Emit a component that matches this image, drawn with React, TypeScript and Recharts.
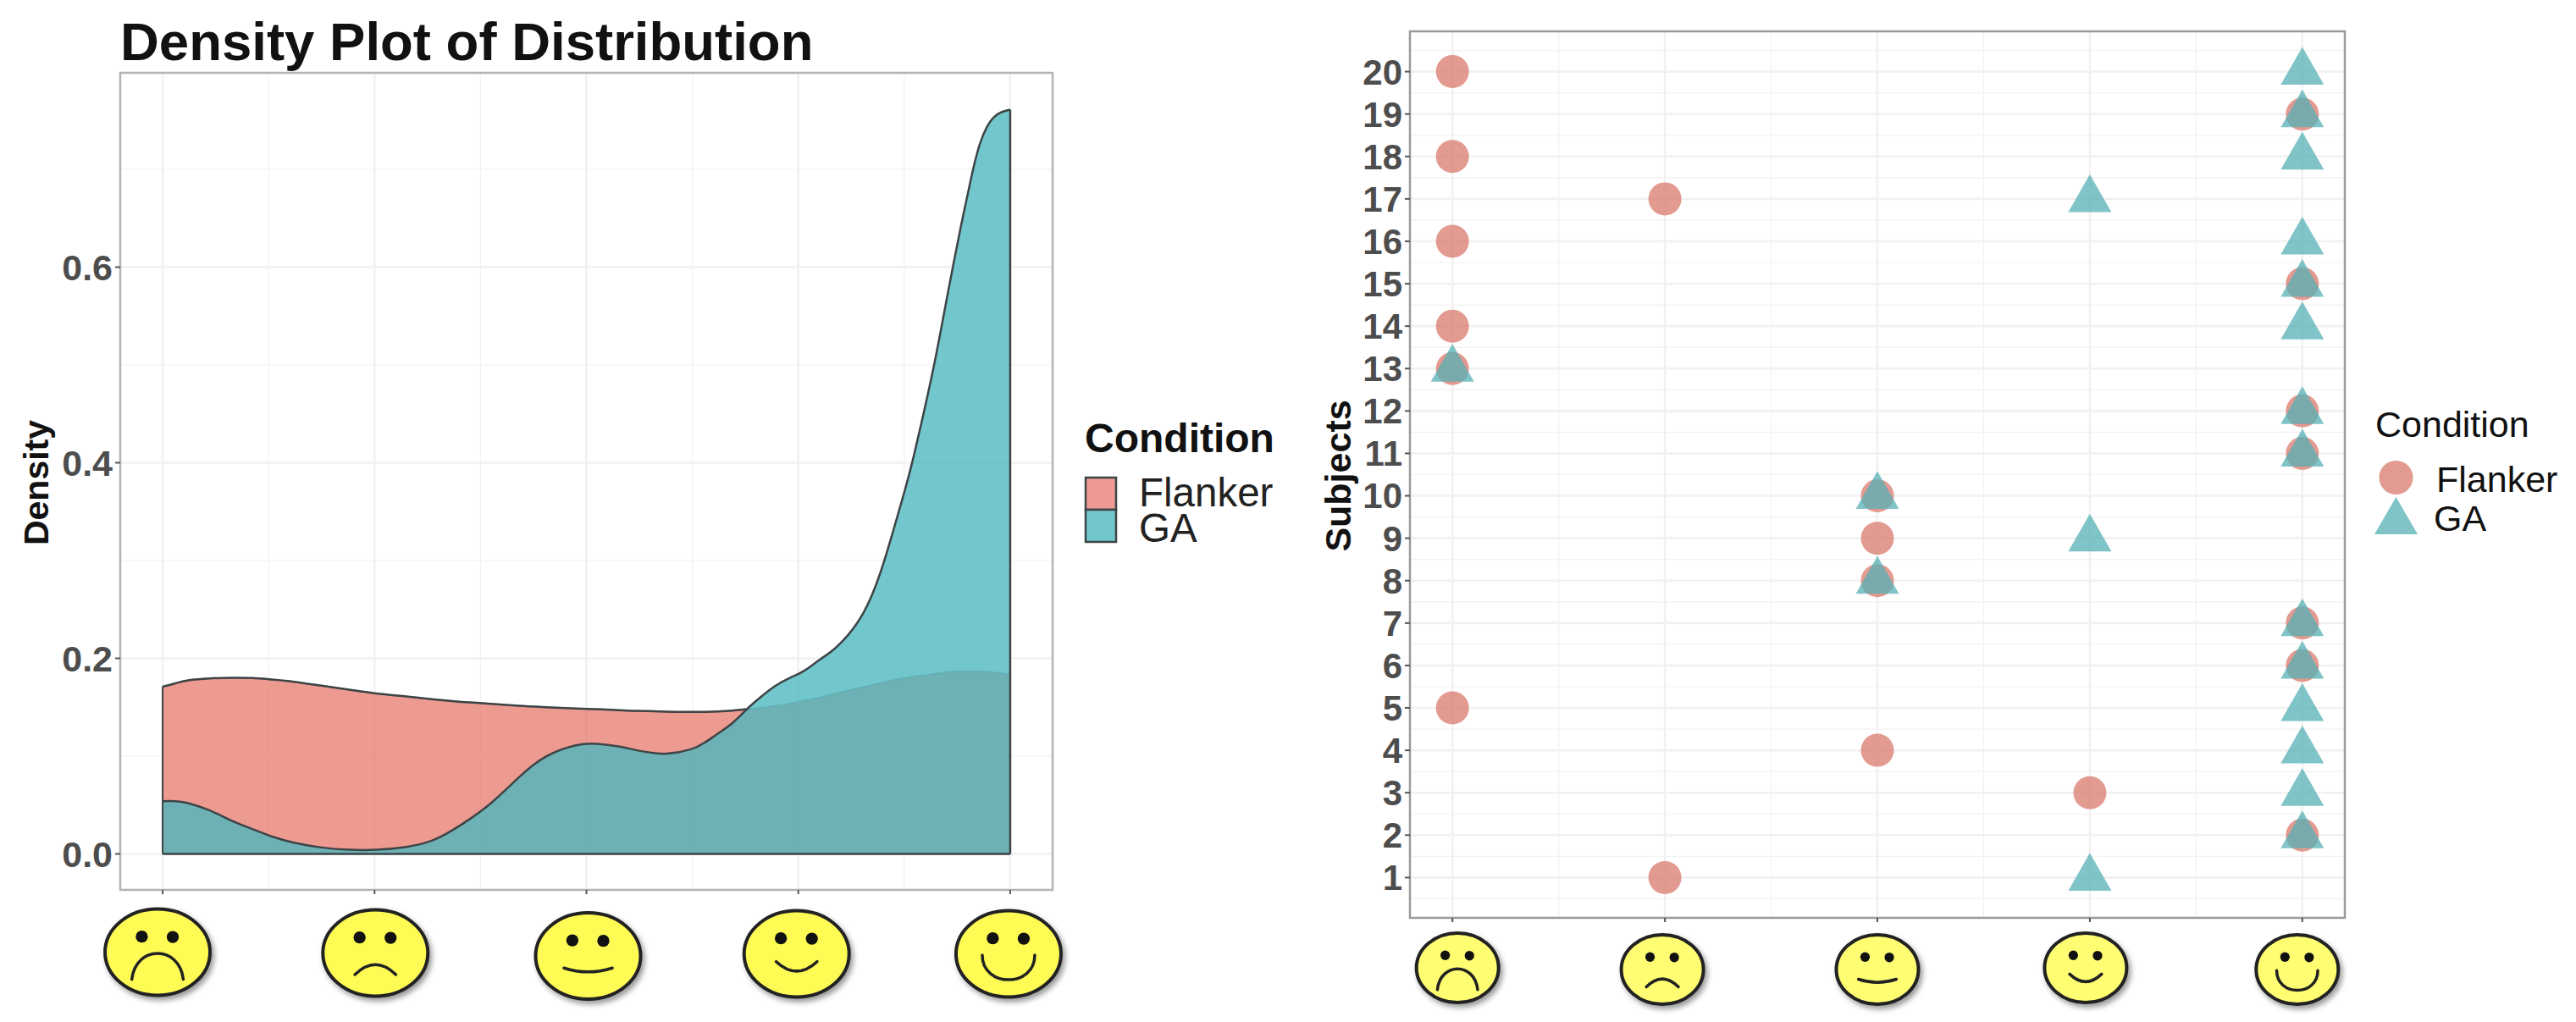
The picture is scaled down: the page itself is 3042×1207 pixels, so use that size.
import {
    Area,
    CartesianGrid,
    ComposedChart,
    Line,
    ReferenceArea,
    ReferenceLine,
    Scatter,
    ScatterChart,
    XAxis,
    YAxis,
} from 'recharts'

const FONT = '"Liberation Sans", Arial, sans-serif'

// density curves
const densityX = [
    1, 1.06, 1.12, 1.22, 1.32, 1.42, 1.52, 1.62, 1.75, 1.88, 2.01, 2.15, 2.28, 2.41, 2.55, 2.68, 2.81, 2.95, 3.05,
    3.15, 3.22, 3.29, 3.38, 3.49, 3.56, 3.62, 3.69, 3.76, 3.82, 3.89, 3.96, 4.03, 4.1, 4.18, 4.28, 4.35, 4.4, 4.45,
    4.505, 4.545, 4.6, 4.65, 4.7, 4.74, 4.78, 4.82, 4.86, 4.92, 5,
]
const flankerDensity = [
    0.171, 0.1745, 0.1775, 0.1795, 0.18, 0.1798, 0.1782, 0.176, 0.172, 0.168, 0.164, 0.161, 0.158, 0.1555, 0.1535,
    0.1515, 0.15, 0.1486, 0.148, 0.147, 0.1463, 0.146, 0.1455, 0.1452, 0.1453, 0.1457, 0.1466, 0.148, 0.1496, 0.1515,
    0.154, 0.157, 0.16, 0.1645, 0.1695, 0.173, 0.1755, 0.178, 0.18, 0.1815, 0.183, 0.1845, 0.186, 0.1865, 0.187, 0.187,
    0.187, 0.186, 0.184,
]
const gaDensity = [
    0.054, 0.054, 0.052, 0.0447, 0.0346, 0.0257, 0.0175, 0.0115, 0.0066, 0.0043, 0.0043, 0.0072, 0.0144, 0.03, 0.052,
    0.078, 0.0996, 0.111, 0.1125, 0.11, 0.1068, 0.104, 0.1025, 0.1068, 0.114, 0.123, 0.134, 0.1486, 0.16, 0.1717, 0.18,
    0.1876, 0.1985, 0.2115, 0.2368, 0.266, 0.296, 0.332, 0.3736, 0.407, 0.459, 0.51, 0.567, 0.612, 0.655, 0.6955, 0.728,
    0.7528, 0.761,
]
const densityTicks = [0, 0.2, 0.4, 0.6]
const densityMinorTicks = [0.1, 0.3, 0.5, 0.7]
const faceTicks = [1, 2, 3, 4, 5]
const faceMinorTicks = [1.5, 2.5, 3.5, 4.5]

// face picked per subject, subject 1 first
const subjects = [1, 2, 3, 4, 5, 6, 7, 8, 9, 10, 11, 12, 13, 14, 15, 16, 17, 18, 19, 20]
const flankerFaces = [2, 5, 4, 3, 1, 5, 5, 3, 3, 3, 5, 5, 1, 1, 5, 1, 2, 1, 5, 1]
const gaFaces = [4, 5, 5, 5, 5, 5, 5, 3, 4, 3, 5, 5, 1, 5, 5, 5, 4, 5, 5, 5]
const subjectMinorTicks = [
    0.5, 1.5, 2.5, 3.5, 4.5, 5.5, 6.5, 7.5, 8.5, 9.5, 10.5, 11.5, 12.5, 13.5, 14.5, 15.5, 16.5, 17.5, 18.5, 19.5, 20.5,
]

const densityData = densityX.map((x, i) => ({
    x,
    flanker: flankerDensity[i],
    ga: gaDensity[i],
    flankerEdge: x <= 3.76 ? flankerDensity[i] : null,
}))
const flankerPoints = subjects.map((s, i) => ({ face: flankerFaces[i], subject: s }))
const gaPoints = subjects.map((s, i) => ({ face: gaFaces[i], subject: s }))

const mouths = [
    'M -0.49 0.63 C -0.42 -0.17 0.42 -0.17 0.49 0.63',
    'M -0.39 0.5 Q 0 0.04 0.39 0.5',
    'M -0.46 0.28 Q 0 0.46 0.46 0.28',
    'M -0.39 0.18 Q 0 0.62 0.39 0.18',
    'M -0.5 0.03 C -0.5 0.79 0.5 0.79 0.5 0.03',
]

function Face({ cx, cy, rx, ry, kind, fill }: any) {
    return (
        <g style={{ filter: 'drop-shadow(3px 4px 3px rgba(0,0,0,0.4))' }}>
            <g transform={`translate(${cx} ${cy}) scale(${rx} ${ry})`}>
                <ellipse cx={0} cy={0} rx={1} ry={1} fill={fill} stroke="#222" strokeWidth={4} vectorEffect="non-scaling-stroke" />
                <ellipse cx={-0.3} cy={-0.36} rx={0.115} ry={0.14} fill="#111" />
                <ellipse cx={0.29} cy={-0.35} rx={0.115} ry={0.14} fill="#111" />
                <path d={mouths[kind]} fill="none" stroke="#222" strokeWidth={3.5} strokeLinecap="round" vectorEffect="non-scaling-stroke" />
            </g>
        </g>
    )
}

const leftFaceDx = [-6, 1, 2, -2, -2]
const leftFaceCy = [1124.5, 1125.5, 1129, 1126.5, 1126.5]
const rightFaceDx = [6, -3, 0, -5, -6]
const rightFaceCy = [1143, 1145, 1145, 1143, 1145]

function LeftFaceTick({ x, index }: any) {
    return <Face cx={x + leftFaceDx[index]} cy={leftFaceCy[index]} rx={62} ry={51} kind={index} fill="#fffb55" />
}

function RightFaceTick({ x, index }: any) {
    return <Face cx={x + rightFaceDx[index]} cy={rightFaceCy[index]} rx={48.5} ry={41} kind={index} fill="#fffd72" />
}

const circleShape = ({ cx, cy }: any) => <circle cx={cx} cy={cy} r={19.5} fill="#da786b" fillOpacity={0.75} />
const triangleShape = ({ cx, cy }: any) => (
    <path d={`M ${cx} ${cy - 29} L ${cx + 25.5} ${cy + 15.5} L ${cx - 25.5} ${cy + 15.5} Z`} fill="#56b0b6" fillOpacity={0.75} />
)

const tickStyle = { fontFamily: FONT, fontWeight: 700, fill: '#4d4d4d' }
const GRID = '#f1f1f1'
const BORDER = '#b4b4b4'
const EDGE = '#3d4446'

function DensityPlot() {
    return (
        <div style={{ position: 'absolute', left: 0, top: 0 }}>
            <ComposedChart width={1300} height={1207} data={densityData} margin={{ top: 86, right: 57, bottom: 16, left: 42 }}>
                <CartesianGrid stroke={GRID} strokeWidth={1.2} horizontalValues={densityMinorTicks} verticalValues={faceMinorTicks} />
                <CartesianGrid stroke={GRID} strokeWidth={2.6} horizontalValues={densityTicks} verticalValues={faceTicks} />
                <XAxis
                    dataKey="x"
                    type="number"
                    domain={[0.8, 5.2]}
                    ticks={faceTicks}
                    axisLine={false}
                    tickLine={{ stroke: '#555', strokeWidth: 2 }}
                    tickSize={5}
                    height={140}
                    interval={0}
                    tick={<LeftFaceTick />}
                />
                <YAxis
                    type="number"
                    domain={[-0.0368, 0.7987]}
                    allowDataOverflow
                    ticks={densityTicks}
                    tickFormatter={(v: number) => v.toFixed(1)}
                    axisLine={false}
                    tickLine={{ stroke: '#555', strokeWidth: 2 }}
                    tickSize={6}
                    tickMargin={3}
                    width={100}
                    interval={0}
                    tick={{ ...tickStyle, fontSize: 43 }}
                />
                <Area dataKey="flanker" type="natural" fill="#e56f63" fillOpacity={0.7} stroke={EDGE} strokeOpacity={0.3} strokeWidth={2} isAnimationActive={false} dot={false} activeDot={false} />
                <Area dataKey="ga" type="natural" fill="#4ab7bf" fillOpacity={0.78} stroke={EDGE} strokeWidth={2.5} isAnimationActive={false} dot={false} activeDot={false} />
                <Line dataKey="flankerEdge" type="natural" stroke={EDGE} strokeWidth={2.5} dot={false} activeDot={false} isAnimationActive={false} />
                <ReferenceLine segment={[{ x: 1, y: 0 }, { x: 5, y: 0 }]} stroke={EDGE} strokeWidth={2.5} />
                <ReferenceLine segment={[{ x: 1, y: 0 }, { x: 1, y: flankerDensity[0] }]} stroke={EDGE} strokeWidth={2} />
                <ReferenceLine segment={[{ x: 5, y: 0 }, { x: 5, y: gaDensity[gaDensity.length - 1] }]} stroke={EDGE} strokeWidth={2.5} />
                <ReferenceArea x1={0.8} x2={5.2} y1={-0.0368} y2={0.7987} fill="none" stroke={BORDER} strokeWidth={2.5} />
            </ComposedChart>
        </div>
    )
}

function SubjectsPlot() {
    return (
        <div style={{ position: 'absolute', left: 1500, top: 0 }}>
            <ScatterChart width={1542} height={1207} margin={{ top: 37, right: 273, bottom: 3, left: 45 }}>
                <CartesianGrid stroke={GRID} strokeWidth={1.2} horizontalValues={subjectMinorTicks} verticalValues={faceMinorTicks} />
                <CartesianGrid stroke={GRID} strokeWidth={2.6} horizontalValues={subjects} verticalValues={faceTicks} />
                <XAxis
                    dataKey="face"
                    type="number"
                    domain={[0.8, 5.2]}
                    ticks={faceTicks}
                    axisLine={false}
                    tickLine={{ stroke: '#555', strokeWidth: 2 }}
                    tickSize={5}
                    height={120}
                    interval={0}
                    tick={<RightFaceTick />}
                />
                <YAxis
                    dataKey="subject"
                    type="number"
                    domain={[0.05, 20.95]}
                    allowDataOverflow
                    ticks={subjects}
                    axisLine={false}
                    tickLine={{ stroke: '#555', strokeWidth: 2 }}
                    tickSize={6}
                    tickMargin={3}
                    width={120}
                    interval={0}
                    tick={{ ...tickStyle, fontSize: 42 }}
                />
                <Scatter name="Flanker" data={flankerPoints} shape={circleShape} isAnimationActive={false} />
                <Scatter name="GA" data={gaPoints} shape={triangleShape} isAnimationActive={false} />
                <ReferenceArea x1={0.8} x2={5.2} y1={0.05} y2={20.95} fill="none" stroke="#9a9a9a" strokeWidth={2.5} />
            </ScatterChart>
        </div>
    )
}

function Annotations() {
    return (
        <svg width={3042} height={1207} style={{ position: 'absolute', left: 0, top: 0, pointerEvents: 'none' }} fontFamily={FONT}>
            <text x={142} y={71} fontSize={63.5} fontWeight={700} fill="#111">Density Plot of Distribution</text>
            <text transform="translate(57 570) rotate(-90)" textAnchor="middle" fontSize={41} fontWeight={700} fill="#111">Density</text>
            <text x={1281} y={534} fontSize={48} fontWeight={700} fill="#111">Condition</text>
            <rect x={1282} y={564} width={36} height={38} fill="#ed9a92" stroke={EDGE} strokeWidth={2.5} />
            <rect x={1282} y={602} width={36} height={38} fill="#72c7cd" stroke={EDGE} strokeWidth={2.5} />
            <text x={1345} y={598} fontSize={47.5} fill="#222">Flanker</text>
            <text x={1345} y={640} fontSize={47.5} fill="#222">GA</text>

            <text transform="translate(1595 562) rotate(-90)" textAnchor="middle" fontSize={43} fontWeight={700} fill="#111">Subjects</text>
            <text x={2805} y={516} fontSize={43} fill="#111">Condition</text>
            <circle cx={2829.5} cy={564} r={20} fill="#da786b" fillOpacity={0.75} />
            <path d="M 2829.5 587 L 2855 631 L 2804 631 Z" fill="#56b0b6" fillOpacity={0.75} />
            <text x={2877} y={581} fontSize={43} fill="#111">Flanker</text>
            <text x={2874} y={627} fontSize={43} fill="#111">GA</text>
        </svg>
    )
}

export default function App() {
    return (
        <div style={{ position: 'absolute', left: 0, top: 0, width: 3042, height: 1207, background: '#fff', overflow: 'hidden' }}>
            <DensityPlot />
            <SubjectsPlot />
            <Annotations />
        </div>
    )
}
